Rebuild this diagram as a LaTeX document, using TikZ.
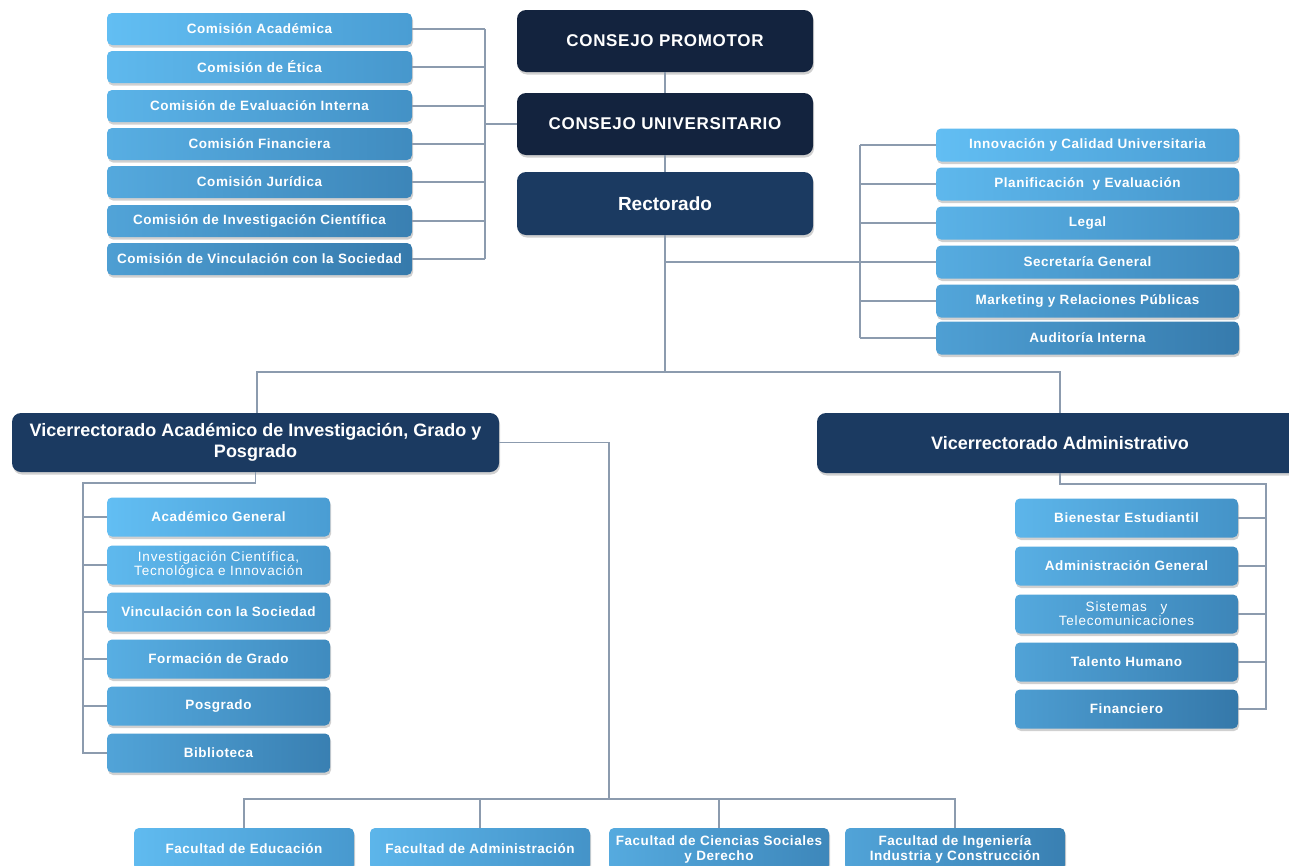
\documentclass[tikz,border=0pt]{standalone}
\usepackage{fontspec}
\setmainfont{Liberation Sans}
\newfontfamily\spaced{Liberation Sans}[LetterSpace=4]
\newfontfamily\wspaced{Liberation Sans}[LetterSpace=6]
\usetikzlibrary{shadows}
\definecolor{navyD}{HTML}{13233E}
\definecolor{navyM}{HTML}{1B3A61}
\definecolor{LA}{HTML}{62BEF3}
\definecolor{LB}{HTML}{4A9DD3}
\definecolor{DA}{HTML}{4692C6}
\definecolor{DB}{HTML}{2E6C9C}
\definecolor{conn}{HTML}{8C9BAE}
\begin{document}
\begin{tikzpicture}[x=1pt,y=-1pt,
  shad/.style={drop shadow={shadow xshift=1pt,shadow yshift=-2.5pt,opacity=0.3,fill=black!60}},
  navy/.style={shad,rounded corners=9pt,fill=#1,text=white,align=center,inner sep=0pt},
  lb/.style={shad,rounded corners=5pt,left color=LA!#1!DA,right color=LB!#1!DB,text=white,
    align=center,inner sep=0pt,font=\spaced\bfseries\fontsize{13.5}{15}\selectfont},
  thin/.style={font=\wspaced\fontsize{13.5}{14}\selectfont},
  cline/.style={draw=conn,line width=1.1pt},
  top/.style={font=\spaced\bfseries\fontsize{17}{20}\selectfont},
  rect/.style={font=\bfseries\fontsize{19}{22}\selectfont},
  vice/.style={font=\bfseries\fontsize{18}{21}\selectfont}
]
\useasboundingbox (0,0) rectangle (1289,865);
\fill[white] (0,0) rectangle (1289,865);

% top chain
\node[navy=navyD,top,minimum width=296pt,minimum height=62pt] (cp) at (665,41) {CONSEJO PROMOTOR};
\node[navy=navyD,top,minimum width=296pt,minimum height=62pt] (cu) at (665,124) {CONSEJO UNIVERSITARIO};
\node[navy=navyM,rect,minimum width=296pt,minimum height=63pt] (rec) at (665,203.5) {Rectorado};

% commissions
\begin{scope}[every node/.append style={minimum width=305pt,minimum height=32pt}]
\node[lb=100] (c1) at (259.5,29) {Comisión Académica};
\node[lb=88] (c2) at (259.5,67) {Comisión de Ética};
\node[lb=76] (c3) at (259.5,106) {Comisión de Evaluación Interna};
\node[lb=64] (c4) at (259.5,144) {Comisión Financiera};
\node[lb=52] (c5) at (259.5,182) {Comisión Jurídica};
\node[lb=40] (c6) at (259.5,221) {Comisión de Investigación Científica};
\node[lb=28] (c7) at (259.5,259) {Comisión de Vinculación con la Sociedad};
\end{scope}

% rectorado staff
\begin{scope}[every node/.append style={minimum width=303pt,minimum height=33pt}]
\node[lb=100] (r1) at (1087.5,145) {Innovación y Calidad Universitaria};
\node[lb=86] (r2) at (1087.5,184) {Planificación\ \ y Evaluación};
\node[lb=72] (r3) at (1087.5,223) {Legal};
\node[lb=58] (r4) at (1087.5,262) {Secretaría General};
\node[lb=44] (r5) at (1087.5,301) {Marketing y Relaciones Públicas};
\node[lb=30] (r6) at (1087.5,338) {Auditoría Interna};
\end{scope}

% vicerrectorados
\node[navy=navyM,vice,minimum width=487pt,minimum height=59pt] (vac) at (255.5,442.5)
  {Vicerrectorado Académico de Investigación, Grado y\\Posgrado};
\node[navy=navyM,vice,minimum width=486pt,minimum height=60pt] (vad) at (1060,443)
  {Vicerrectorado Administrativo};

% academic units
\begin{scope}[every node/.append style={minimum width=223pt,minimum height=39pt}]
\node[lb=100] (a1) at (218.5,517) {Académico General};
\node[lb=88,thin] (a2) at (218.5,565) {Investigación Científica,\\Tecnológica e Innovación};
\node[lb=76] (a3) at (218.5,612) {Vinculación con la Sociedad};
\node[lb=64] (a4) at (218.5,659) {Formación de Grado};
\node[lb=52] (a5) at (218.5,706) {Posgrado};
\node[lb=40] (a6) at (218.5,753) {Biblioteca};
\end{scope}

% administrative units
\begin{scope}[every node/.append style={minimum width=223pt,minimum height=39pt}]
\node[lb=80] (d1) at (1126.5,518) {Bienestar Estudiantil};
\node[lb=66] (d2) at (1126.5,566) {Administración General};
\node[lb=52,thin] (d3) at (1126.5,614) {Sistemas\ \ \ y\\Telecomunicaciones};
\node[lb=38] (d4) at (1126.5,662) {Talento Humano};
\node[lb=25] (d5) at (1126.5,709) {Financiero};
\end{scope}

% faculties
\begin{scope}[every node/.append style={minimum width=220pt,minimum height=42pt}]
\node[lb=92] (f1) at (244,849) {Facultad de Educación};
\node[lb=80] (f2) at (480,849) {Facultad de Administración};
\node[lb=55] (f3) at (719,849) {Facultad de Ciencias Sociales\\y Derecho};
\node[lb=40] (f4) at (955,849) {Facultad de Ingeniería\\Industria y Construcción};
\end{scope}

% bus coordinates
\coordinate (cbus) at (485,0);
\coordinate (rbus) at (860,0);
\coordinate (vbus) at (0,372);
\coordinate (abus) at (83,483);
\coordinate (fdrop) at (609,0);
\coordinate (fbus) at (0,799);
\coordinate (dbus) at (1266,484);
\coordinate (vstem) at (257,0);

% connectors: top chain
\draw[cline] (cp.south) -- (cu.north);
\draw[cline] (cu.south) -- (rec.north);
% commissions
\draw[cline] (c1.east -| cbus) -- (c7.east -| cbus);
\foreach \n in {c1,c2,c3,c4,c5,c6,c7} \draw[cline] (\n.east) -- (\n.east -| cbus);
\draw[cline] (cbus |- cu.west) -- (cu.west);
% rectorado staff
\draw[cline] (rbus |- r1.west) -- (rbus |- r6.west);
\foreach \n in {r1,r2,r3,r4,r5,r6} \draw[cline] (\n.west) -- (\n.west -| rbus);
\draw[cline] (rec.south) -- (rec.south |- vbus);
\draw[cline] (rec.south |- r4.west) -- (rbus |- r4.west);
% to vicerrectorados
\draw[cline] (vac.north -| vstem) -- (vstem |- vbus) -- (vad.north |- vbus) -- (vad.north);
% academic units
\draw[cline] (vac.south) -- (vac.south |- abus) -- (abus) -- (abus |- a6.west) -- (a6.west);
\foreach \n in {a1,a2,a3,a4,a5} \draw[cline] (\n.west -| abus) -- (\n.west);
% administrative units
\draw[cline] (vad.south) -- (vad.south |- dbus) -- (dbus) -- (dbus |- d5.east) -- (d5.east);
\foreach \n in {d1,d2,d3,d4} \draw[cline] (\n.east) -- (\n.east -| dbus);
% faculties
\draw[cline] (vac.east) -- (vac.east -| fdrop) -- (fdrop |- fbus);
\draw[cline] (f1.north) -- (f1.north |- fbus) -- (f4.north |- fbus) -- (f4.north);
\draw[cline] (f2.north) -- (f2.north |- fbus);
\draw[cline] (f3.north) -- (f3.north |- fbus);
\end{tikzpicture}
\end{document}
